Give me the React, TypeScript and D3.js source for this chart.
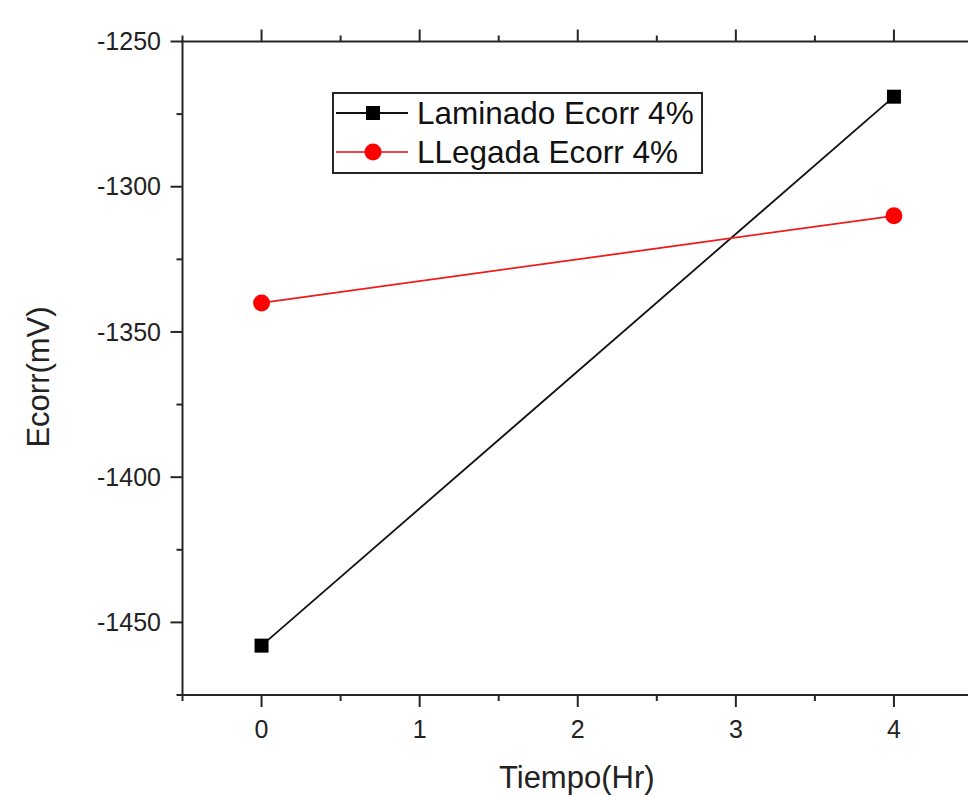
import React from "react";
import * as d3 from "d3";

const times = [0, 4];
const laminado = [-1458, -1269];
const llegada = [-1340, -1310];
const seriesNames = ["Laminado Ecorr 4%", "LLegada Ecorr 4%"];
const xTicks = [0, 1, 2, 3, 4];
const yTicks = [-1250, -1300, -1350, -1400, -1450];

const W = 968;
const H = 796;
const FONT = "'Liberation Sans', Arial, Helvetica, sans-serif";
const AX = "#262626";

export default function App() {
  const x = d3.scaleLinear().domain([-0.5, 4.5]).range([182.5, 973]);
  const y = d3.scaleLinear().domain([-1475, -1250]).range([695, 41.5]);
  const line = d3
    .line<[number, number]>()
    .x((d) => x(d[0]))
    .y((d) => y(d[1]));

  const lamPts: [number, number][] = times.map((t, i) => [t, laminado[i]]);
  const llePts: [number, number][] = times.map((t, i) => [t, llegada[i]]);

  const xMinor = d3.range(-0.5, 4.51, 0.5).filter((v) => !xTicks.includes(v));
  const yMinor = d3.range(-1475, -1249, 25).filter((v) => !yTicks.includes(v));

  const x0 = x(-0.5);
  const x1 = x(4.5);
  const y0 = y(-1475);
  const y1 = y(-1250);

  const sq = 14;
  const r = 8.5;

  return (
    <svg
      width={W}
      height={H}
      style={{ position: "absolute", left: 0, top: 0, background: "#fff" }}
      fontFamily={FONT}
    >
      <rect x={0} y={0} width={W} height={H} fill="#fff" />
      {/* frame */}
      <line x1={x0} x2={x0} y1={y1 - 1} y2={y0 + 1} stroke={AX} strokeWidth={2} />
      <line x1={x0 - 1} x2={x1} y1={y0} y2={y0} stroke={AX} strokeWidth={2} />
      <line x1={x0 - 1} x2={x1} y1={y1} y2={y1} stroke={AX} strokeWidth={2} />
      <line x1={x1} x2={x1} y1={y1} y2={y0} stroke={AX} strokeWidth={2} />

      {/* x ticks bottom & top */}
      {xTicks.map((t) => (
        <g key={"xt" + t}>
          <line x1={x(t)} x2={x(t)} y1={y0} y2={y0 + 12} stroke={AX} strokeWidth={2} />
          <line x1={x(t)} x2={x(t)} y1={y1} y2={y1 - 12} stroke={AX} strokeWidth={2} />
          <text x={x(t)} y={738} fontSize={25} textAnchor="middle" fill="#222">
            {t}
          </text>
        </g>
      ))}
      {xMinor.map((t) => (
        <g key={"xm" + t}>
          <line x1={x(t)} x2={x(t)} y1={y0} y2={y0 + 6} stroke={AX} strokeWidth={2} />
          <line x1={x(t)} x2={x(t)} y1={y1} y2={y1 - 6} stroke={AX} strokeWidth={2} />
        </g>
      ))}

      {/* y ticks */}
      {yTicks.map((t) => (
        <g key={"yt" + t}>
          <line x1={x0} x2={x0 - 12} y1={y(t)} y2={y(t)} stroke={AX} strokeWidth={2} />
          <text
            x={161}
            y={y(t)}
            dy="0.35em"
            fontSize={25}
            textAnchor="end"
            fill="#222"
          >
            {t}
          </text>
        </g>
      ))}
      {yMinor.map((t) => (
        <line key={"ym" + t} x1={x0} x2={x0 - 6} y1={y(t)} y2={y(t)} stroke={AX} strokeWidth={2} />
      ))}

      {/* axis titles */}
      <text x={(x(-0.5) + x(4.5)) / 2 - 1} y={788} fontSize={31} textAnchor="middle" fill="#222">
        Tiempo(Hr)
      </text>
      <text
        transform={`translate(49, 377) rotate(-90)`}
        fontSize={31}
        textAnchor="middle"
        fill="#222"
      >
        Ecorr(mV)
      </text>

      {/* series */}
      <path d={line(lamPts) || ""} fill="none" stroke="#111" strokeWidth={1.8} />
      <path d={line(llePts) || ""} fill="none" stroke="#ee1c1c" strokeWidth={1.8} />
      {lamPts.map((p, i) => (
        <rect
          key={"lp" + i}
          x={x(p[0]) - sq / 2}
          y={y(p[1]) - sq / 2}
          width={sq}
          height={sq}
          fill="#000"
        />
      ))}
      {llePts.map((p, i) => (
        <circle key={"cp" + i} cx={x(p[0])} cy={y(p[1])} r={r} fill="#ff0000" />
      ))}

      {/* legend */}
      <rect x={333} y={93} width={369} height={80} fill="#fff" stroke={AX} strokeWidth={2} />
      <line x1={336} x2={408} y1={113} y2={113} stroke="#111" strokeWidth={1.8} />
      <rect x={373 - sq / 2} y={113 - sq / 2} width={sq} height={sq} fill="#000" />
      <text x={417} y={113} dy="0.36em" fontSize={31.5} fill="#111">
        {seriesNames[0]}
      </text>
      <line x1={336} x2={408} y1={152} y2={152} stroke="#ee4455" strokeWidth={1.8} />
      <circle cx={373} cy={152} r={r} fill="#ff0000" />
      <text x={417} y={152} dy="0.36em" fontSize={31.5} fill="#111">
        {seriesNames[1]}
      </text>
    </svg>
  );
}
